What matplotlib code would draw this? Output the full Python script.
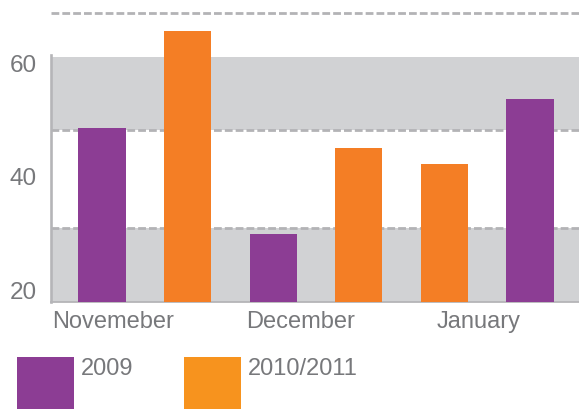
import matplotlib
matplotlib.use("Agg")
import matplotlib.pyplot as plt
from matplotlib.patches import Rectangle

plt.rcParams['font.family'] = ['Liberation Sans', 'DejaVu Sans']

months = ["Novemeber", "December", "January"]
series = ["2009", "2010/2011"]
values_2009 = [48.6, 29.9, 53.7]
values_2010 = [65.8, 45.1, 42.3]

# bar slots (Jan has the two series swapped)
slots_2009 = [0, 2, 5]
slots_2010 = [1, 3, 4]
# month labels are left aligned at these x positions
label_x = [-0.58, 1.68, 3.906]

y_ticks = [20, 40, 60]
grid_levels = [31.0, 48.2, 68.9]
bands = [(17.9, 31.0), (48.2, 61.2)]

purple = "#8c3d94"
orange = "#f47e25"
legend_colors = ["#8c3d94", "#f7931e"]
band_gray = "#d1d2d4"
dash_gray = "#b3b3b6"
text_gray = "#77787b"

fig = plt.figure(figsize=(5.79, 4.09), dpi=100)
ax = fig.add_axes([51 / 579, 107 / 409, 528 / 579, 302 / 409])

for lo, hi in bands:
    ax.axhspan(lo, hi, color=band_gray, lw=0, zorder=0)
for g in grid_levels:
    ax.axhline(g, color=dash_gray, lw=2.0, ls=(0, (2.8, 1.1)), zorder=1)

ax.bar(slots_2009, values_2009, width=0.55, color=purple, zorder=3, label=series[0])
ax.bar(slots_2010, values_2010, width=0.55, color=orange, zorder=3, label=series[1])

ax.set_xlim(-0.596, 5.572)
ax.set_ylim(17.88, 71.24)

for s in ["top", "right"]:
    ax.spines[s].set_visible(False)
ax.spines["left"].set_color("#b5b5b8")
ax.spines["left"].set_linewidth(1.9)
ax.spines["left"].set_bounds(17.88, 61.6)
ax.spines["bottom"].set_color("#b5b5b8")
ax.spines["bottom"].set_linewidth(1.3)
ax.spines["bottom"].set_zorder(2)

ax.set_yticks(y_ticks)
ax.set_yticklabels([str(t) for t in y_ticks])
ax.tick_params(axis="y", length=0, pad=10, labelsize=17.5, labelcolor=text_gray)

ax.set_xticks(label_x)
ax.set_xticklabels(months, ha="left")
ax.tick_params(axis="x", length=0, pad=6.5, labelsize=17, labelcolor=text_gray)

# legend: square swatch with label top-aligned beside it
legend_x = [17, 184]
for i, name in enumerate(series):
    x0 = legend_x[i]
    fig.add_artist(Rectangle((x0 / 579, 0), 57 / 579, 52 / 409,
                             transform=fig.transFigure, color=legend_colors[i], lw=0))
    fig.text((x0 + 64) / 579, (409 - 358) / 409, name, ha="left", va="top",
             fontsize=17, color=text_gray)

fig.savefig("out.png", dpi=100)
